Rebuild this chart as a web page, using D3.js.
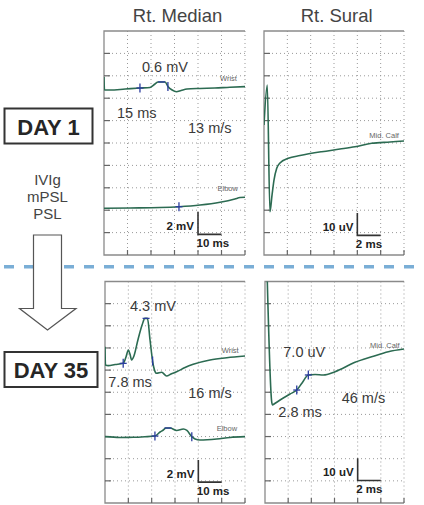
<!DOCTYPE html>
<html>
<head>
<meta charset="utf-8">
<script src="https://cdn.jsdelivr.net/npm/d3@7"></script>
<style>
  body { margin: 0; background: #fff; }
  svg { display: block; font-family: "Liberation Sans", Arial, sans-serif; }
</style>
</head>
<body>
<div id="chart"></div>
<script>
// ---- data: traces as [time (ms), amplitude] pairs ----
// Rt. Median, Day 1 (mV)
const medianDay1Wrist = [
  [0, 5.89], [0.2, 4.73], [2.5, 4.73], [9, 4.82], [15.3, 4.91], [19.6, 4.96],
  [21.7, 5.27], [23, 5.45], [26, 5.45], [27.2, 5.05], [29, 4.73], [30.8, 4.58],
  [32.8, 4.69], [35.3, 4.82], [40.9, 4.87], [47.2, 4.91], [53.6, 4.98], [60, 5.03]
];
const medianDay1Elbow = [
  [0, -5.83], [11.1, -5.80], [23.8, -5.76], [31.9, -5.69], [40.9, -5.54],
  [49.4, -5.29], [55.7, -5.0], [57.9, -4.87], [60, -4.85]
];
// Rt. Sural, Day 1 (uV)
const suralDay1 = [
  [0, 8.0], [0.28, 25.9], [0.51, -30.7], [0.69, -23.2], [0.86, -16.5], [1.09, -11.3],
  [1.37, -8.9], [2.08, -6.8], [3.09, -5.6], [4.94, -3.9], [6.51, -2.7], [7.8, -1.65],
  [9.23, -0.13], [10.8, 0.45], [12, 0.9]
];
// Rt. Median, Day 35 (mV)
const medianDay35Wrist = [
  [0, 4.11], [0.2, 2.46], [1.4, 2.40], [4.3, 2.50], [7.8, 2.61], [9.0, 3.18],
  [10.0, 3.81], [10.7, 3.45], [11.4, 2.91], [12.4, 3.27], [14.1, 4.72], [15.9, 6.07],
  [17.1, 6.67], [18.2, 6.67], [19.3, 4.72], [20.4, 2.82], [21.2, 2.01], [22.1, 1.71],
  [24.3, 1.80], [26.4, 1.47], [28.3, 1.65], [30.7, 1.85], [34.3, 2.23], [37.8, 2.52],
  [45, 2.91], [52.2, 3.12], [60, 3.27]
];
const medianDay35Elbow = [
  [0, -4.01], [6.4, -4.08], [12.1, -4.07], [17.1, -4.02], [21.4, -3.95], [23.6, -3.59],
  [25.0, -3.41], [26.1, -3.23], [27.9, -3.23], [30.7, -3.45], [33.6, -3.32], [35.1, -3.45],
  [37.2, -4.01], [38.6, -4.22], [40.7, -4.31], [47.9, -4.22], [53.6, -4.08], [60, -4.01]
];
// Rt. Sural, Day 35 (uV)
const suralDay35 = [
  [0.15, 60], [0.58, -4.4], [0.65, -5.76], [0.78, -5.3], [1.30, -3.5], [2.16, -0.8],
  [2.74, 1.0], [3.2, 4.2], [3.74, 7.8], [4.32, 8.0], [5.04, 7.8], [6.05, 9.3],
  [7.77, 13.5], [9.21, 16.0], [10.65, 18.3], [12, 19.5]
];

// cursor marks [time, amplitude, kind]
const medianDay1Marks = [[15.3, 4.91, "onset"], [24.5, 5.45, "peak"], [27.2, 5.05, "end"], [31.9, -5.69, "onset"]];
const suralDay1Marks = [];
const medianDay35Marks = [[7.8, 2.61, "onset"], [17.6, 6.67, "peak"], [20.4, 2.82, "end"],
  [21.4, -3.95, "onset"], [27.0, -3.23, "peak"], [37.2, -4.01, "end"]];
const suralDay35Marks = [[2.74, 1.0, "onset"], [3.74, 7.8, "onset"]];

// sweep / sensitivity per division
const msPerDiv = [10, 2, 10, 2];
const ampPerDiv = [2, 10, 2, 10];
const ampUnits = ["mV", "uV", "mV", "uV"];

// measurement labels
const ampLabels = ["0.6 mV", "", "4.3 mV", "7.0 uV"];
const latLabels = ["15 ms", "", "7.8 ms", "2.8 ms"];
const cvLabels = ["13 m/s", "", "16 m/s", "46 m/s"];
const siteLabels = [["Wrist", "Elbow"], ["Mid. Calf"], ["Wrist", "Elbow"], ["Mid. Calf"]];
const nerveTitles = ["Rt. Median", "Rt. Sural"];
const dayLabels = ["DAY 1", "DAY 35"];
const treatments = ["IVIg", "mPSL", "PSL"];

// ---- layout ----
const W = 424, H = 505;
const svg = d3.select("#chart").append("svg").attr("width", W).attr("height", H);

const traceColor = "#2c6b52", markColor = "#2b3d9e", textColor = "#3a3a3a";

const panels = [
  { x: 104, y: 31, w: 141, h: 224, traces: [medianDay1Wrist, medianDay1Elbow], marks: medianDay1Marks,
    amp: [38, 40.5], lat: [13, 86.5], cv: [84, 102], sites: [[116, 50], [113.5, 159.5]], bar: 181 },
  { x: 264, y: 31, w: 140, h: 224, traces: [suralDay1], marks: suralDay1Marks,
    sites: [[105.3, 107]], bar: 182 },
  { x: 105, y: 281.5, w: 140, h: 221.5, traces: [medianDay35Wrist, medianDay35Elbow], marks: medianDay35Marks,
    amp: [25, 29.5], lat: [3.3, 105], cv: [83.3, 116], sites: [[116.7, 71.8], [111.7, 149]], bar: 178.5 },
  { x: 265, y: 281.5, w: 139, h: 221.5, traces: [suralDay35], marks: suralDay35Marks,
    amp: [18.3, 75], lat: [13.3, 135], cv: [76.7, 121], sites: [[105, 66]], bar: 176.8 }
];

// nerve titles
nerveTitles.forEach((t, i) => {
  svg.append("text")
    .attr("x", i === 0 ? 177.5 : 336.7).attr("y", 22)
    .attr("text-anchor", "middle")
    .attr("font-size", 18.5).attr("fill", "#444")
    .text(t);
});

// dashed separator
svg.append("line")
  .attr("x1", 0).attr("x2", W).attr("y1", 266.7).attr("y2", 266.7)
  .attr("stroke", "#7aaed6").attr("stroke-width", 3.5)
  .attr("stroke-dasharray", "10,10").attr("stroke-dashoffset", -4);

panels.forEach((p, i) => {
  const nx = 6, ny = 10;
  const x = d3.scaleLinear().domain([0, nx * msPerDiv[i]]).range([0, p.w]);
  const y = d3.scaleLinear().domain([-ny / 2 * ampPerDiv[i], ny / 2 * ampPerDiv[i]]).range([p.h, 0]);
  const g = svg.append("g").attr("transform", `translate(${p.x},${p.y})`);

  // dotted grid
  g.selectAll("line.vg").data(d3.range(1, nx + 1)).join("line")
    .attr("x1", d => x(d * msPerDiv[i])).attr("x2", d => x(d * msPerDiv[i]))
    .attr("y1", 0).attr("y2", p.h)
    .attr("stroke", "#999").attr("stroke-width", 1).attr("stroke-dasharray", "1,3");
  g.selectAll("line.hg").data(d3.range(1, ny)).join("line")
    .attr("x1", 0).attr("x2", p.w)
    .attr("y1", d => y((ny / 2 - d) * ampPerDiv[i])).attr("y2", d => y((ny / 2 - d) * ampPerDiv[i]))
    .attr("stroke", "#999").attr("stroke-width", 1).attr("stroke-dasharray", "1,3");

  // frame: left, top, bottom solid
  g.append("path")
    .attr("d", `M${p.w},0H0V${p.h}H${p.w}`)
    .attr("fill", "none").attr("stroke", "#8a8a8a").attr("stroke-width", 1.3);
  // ticks on left and bottom
  g.selectAll("line.lt").data(d3.range(1, ny)).join("line")
    .attr("x1", 0).attr("x2", 6)
    .attr("y1", d => y((ny / 2 - d) * ampPerDiv[i])).attr("y2", d => y((ny / 2 - d) * ampPerDiv[i]))
    .attr("stroke", "#666").attr("stroke-width", 1.2);
  g.selectAll("line.bt").data(d3.range(1, nx + 1)).join("line")
    .attr("x1", d => x(d * msPerDiv[i])).attr("x2", d => x(d * msPerDiv[i]))
    .attr("y1", p.h).attr("y2", p.h - 5)
    .attr("stroke", "#666").attr("stroke-width", 1.2);

  // traces
  const clipId = "clip" + i;
  svg.append("clipPath").attr("id", clipId)
    .append("rect").attr("x", 0).attr("y", 0).attr("width", p.w).attr("height", p.h);
  const line = d3.line().x(d => x(d[0])).y(d => y(d[1])).curve(d3.curveMonotoneX);
  const tg = g.append("g").attr("clip-path", `url(#${clipId})`);
  p.traces.forEach(tr => {
    tg.append("path").datum(tr)
      .attr("d", line)
      .attr("fill", "none").attr("stroke", traceColor)
      .attr("stroke-width", 1.6).attr("stroke-linejoin", "round");
  });

  // cursor marks
  p.marks.forEach(([t, v, kind]) => {
    const cx = x(t), cy = y(v);
    const m = g.append("g").attr("stroke", markColor).attr("stroke-width", 1.3);
    if (kind !== "peak") m.append("line").attr("x1", cx).attr("x2", cx).attr("y1", cy - 4.5).attr("y2", cy + 4.5);
    if (kind !== "end") m.append("line").attr("x1", cx - 3.5).attr("x2", cx + 3.5).attr("y1", cy).attr("y2", cy);
  });

  // labels
  const big = (pos, txt) => {
    if (!pos || !txt) return;
    g.append("text").attr("x", pos[0]).attr("y", pos[1])
      .attr("font-size", 14.5).attr("fill", textColor).text(txt);
  };
  big(p.amp, ampLabels[i]);
  big(p.lat, latLabels[i]);
  big(p.cv, cvLabels[i]);
  p.sites.forEach((pos, k) => {
    g.append("text").attr("x", pos[0]).attr("y", pos[1])
      .attr("font-size", 7.5).attr("fill", "#666").text(siteLabels[i][k]);
  });

  // calibration bar: 1 division each way
  const bx = x(4 * msPerDiv[i]);
  const by0 = p.bar, by1 = p.bar + (y(0) - y(ampPerDiv[i]));
  const bx1 = x(5 * msPerDiv[i]);
  g.append("path").attr("d", `M${bx},${by0}V${by1}H${bx1}`)
    .attr("fill", "none").attr("stroke", "#333").attr("stroke-width", 1.6);
  g.append("text").attr("x", bx - 4).attr("y", by0 + 17.5)
    .attr("text-anchor", "end").attr("font-size", 11.5).attr("font-weight", "bold").attr("fill", "#222")
    .text(ampPerDiv[i] + " " + ampUnits[i]);
  g.append("text").attr("x", bx - 1.5).attr("y", by1 + 12.5)
    .attr("font-size", 11.5).attr("font-weight", "bold").attr("fill", "#222")
    .text(msPerDiv[i] + " ms");
});

// day boxes
const dayBoxes = [[4.5, 108.5, 88, 35], [4.5, 352, 93, 35]];
dayLabels.forEach((d, i) => {
  const [bx, by, bw, bh] = dayBoxes[i];
  svg.append("rect").attr("x", bx).attr("y", by).attr("width", bw).attr("height", bh)
    .attr("fill", "#fff").attr("stroke", "#333").attr("stroke-width", 2);
  svg.append("text").attr("x", bx + bw / 2).attr("y", by + 26)
    .attr("text-anchor", "middle").attr("font-size", 22).attr("font-weight", "bold").attr("fill", "#262626")
    .text(d);
});

// treatment list
treatments.forEach((t, i) => {
  svg.append("text").attr("x", 47.5).attr("y", 185 + i * 17.2)
    .attr("text-anchor", "middle").attr("font-size", 15).attr("fill", "#444").text(t);
});

// block arrow
svg.append("path")
  .attr("d", "M33.5,235H61.5V308.5H76L47.5,330L19.5,308.5H33.5Z")
  .attr("fill", "#fff").attr("stroke", "#555").attr("stroke-width", 1.2);
</script>
</body>
</html>
